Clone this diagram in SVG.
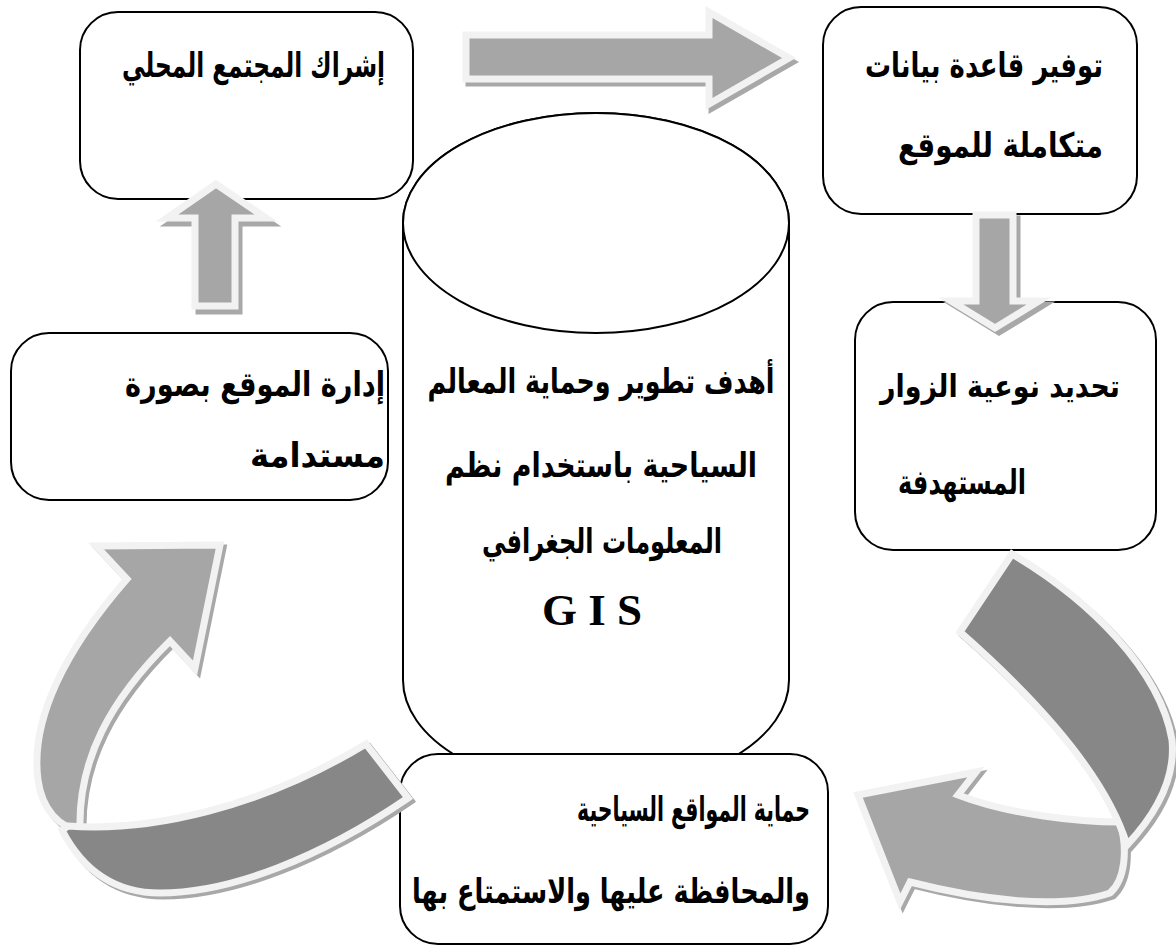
<svg xmlns="http://www.w3.org/2000/svg" xmlns:xlink="http://www.w3.org/1999/xlink" width="1176" height="951" viewBox="0 0 1176 951">
<style>
.box{fill:#fff;stroke:#000;stroke-width:2}
.ar{font-family:'DejaVu Sans',sans-serif;font-weight:bold;font-size:34px;fill:#000}
.lat{font-family:'Liberation Serif',serif;font-weight:bold;font-size:45px;fill:#000}
.lt{fill:#a6a6a6;stroke:#f2f2f2;stroke-width:7;stroke-linejoin:miter}
.dk{fill:#878787;stroke:#f2f2f2;stroke-width:7;stroke-linejoin:miter}
.sh{fill:#a8a8a8;stroke:#a8a8a8;stroke-width:7;stroke-linejoin:miter}
</style>
<defs>
<path id="arTop" d="M466,35 H709 V12 L789,58 L709,104 V79 H466 Z"/>
<path id="arDown" d="M976,215 H1013 V301 H1039 L995,328 L951,301 H976 Z"/>
<path id="arUp" d="M195,306 V218 H167 L216,184 L266,218 H235 V306 Z"/>
<path id="blL" d="M80,830 C78,760 110,700 170,641 L195,668 L220,545 L96,546 L127,579 C65,650 30,720 38,780 C42,810 60,828 80,830 Z"/>
<path id="blD" d="M68,826 C150,832 260,808 366,744 L408,798 C320,858 230,893 160,893 C110,893 80,865 62,830 Z"/>
<path id="brL" d="M1120,822 C1080,822 1010,815 958,795 L976,772 L858,795 L900,902 L910,882 C980,900 1060,910 1110,893 C1125,880 1128,850 1120,822 Z"/>
<path id="brD" d="M1012,554 C1090,600 1160,670 1172,740 C1176,780 1155,815 1127,845 C1110,790 1060,720 960,632 Z"/>
</defs>
<rect width="1176" height="951" fill="#fff"/>
<g id="center-cylinder">
<path class="box" d="M403,223 V680 A193,110 0 0 0 789,680 V223 A193,110 0 0 0 403,223 Z"/>
<ellipse class="box" cx="596" cy="223" rx="193" ry="110"/>
<text class="ar" x="601" y="393" text-anchor="middle" textLength="347" lengthAdjust="spacingAndGlyphs">أهدف تطوير وحماية المعالم</text>
<text class="ar" x="601" y="477" text-anchor="middle" textLength="312" lengthAdjust="spacingAndGlyphs">السياحية باستخدام نظم</text>
<text class="ar" x="602" y="553" text-anchor="middle" textLength="240" lengthAdjust="spacingAndGlyphs">المعلومات الجغرافي</text>
<text class="lat" x="592" y="625" text-anchor="middle">G I S</text>
</g>
<g id="node-community">
<rect class="box" x="80" y="12" width="333" height="187" rx="38"/>
<text class="ar" x="385" y="77" text-anchor="end" textLength="263" lengthAdjust="spacingAndGlyphs">إشراك المجتمع المحلي</text>
</g>
<g id="node-database">
<rect class="box" x="823" y="7" width="314" height="207" rx="38"/>
<text class="ar" x="1103" y="77" text-anchor="end" textLength="238" lengthAdjust="spacingAndGlyphs">توفير قاعدة بيانات</text>
<text class="ar" x="1103" y="157" text-anchor="end" textLength="205" lengthAdjust="spacingAndGlyphs">متكاملة للموقع</text>
</g>
<g id="node-visitors">
<rect class="box" x="855" y="302" width="301" height="248" rx="38"/>
<text class="ar" x="1120" y="397" text-anchor="end" textLength="240" lengthAdjust="spacingAndGlyphs" style="font-size:31px">تحديد نوعية الزوار</text>
<text class="ar" x="1026" y="494" text-anchor="end" textLength="128" lengthAdjust="spacingAndGlyphs">المستهدفة</text>
</g>
<g id="node-management">
<rect class="box" x="11" y="333" width="377" height="167" rx="38"/>
<text class="ar" x="385" y="396" text-anchor="end" textLength="260" lengthAdjust="spacingAndGlyphs">إدارة الموقع بصورة</text>
<text class="ar" x="385" y="467" text-anchor="end" textLength="135" lengthAdjust="spacingAndGlyphs">مستدامة</text>
</g>
<g id="node-protection">
<rect class="box" x="400" y="754" width="428" height="190" rx="38"/>
<text class="ar" x="810" y="821" text-anchor="end" textLength="233" lengthAdjust="spacingAndGlyphs">حماية المواقع السياحية</text>
<text class="ar" x="810" y="903" text-anchor="end" textLength="398" lengthAdjust="spacingAndGlyphs">والمحافظة عليها والاستمتاع بها</text>
</g>
<g id="connectors">
<g id="arrow-top">
<use xlink:href="#arTop" class="sh" transform="translate(3,4)"/>
<use xlink:href="#arTop" class="lt"/>
</g>
<g id="arrow-down">
<use xlink:href="#arDown" class="sh" transform="translate(4,4)"/>
<use xlink:href="#arDown" class="lt"/>
</g>
<g id="arrow-up">
<use xlink:href="#arUp" class="sh" transform="translate(4,5)"/>
<use xlink:href="#arUp" class="lt"/>
</g>
<g id="arrow-curved-left">
<use xlink:href="#blL" class="sh" transform="translate(3,3)"/>
<use xlink:href="#blD" class="sh" transform="translate(3,3)"/>
<use xlink:href="#blL" class="lt"/>
<use xlink:href="#blD" class="dk"/>
</g>
<g id="arrow-curved-right">
<use xlink:href="#brL" class="sh" transform="translate(3,3)"/>
<use xlink:href="#brD" class="sh" transform="translate(3,3)"/>
<use xlink:href="#brL" class="lt"/>
<use xlink:href="#brD" class="dk"/>
</g>
</g>
</svg>
